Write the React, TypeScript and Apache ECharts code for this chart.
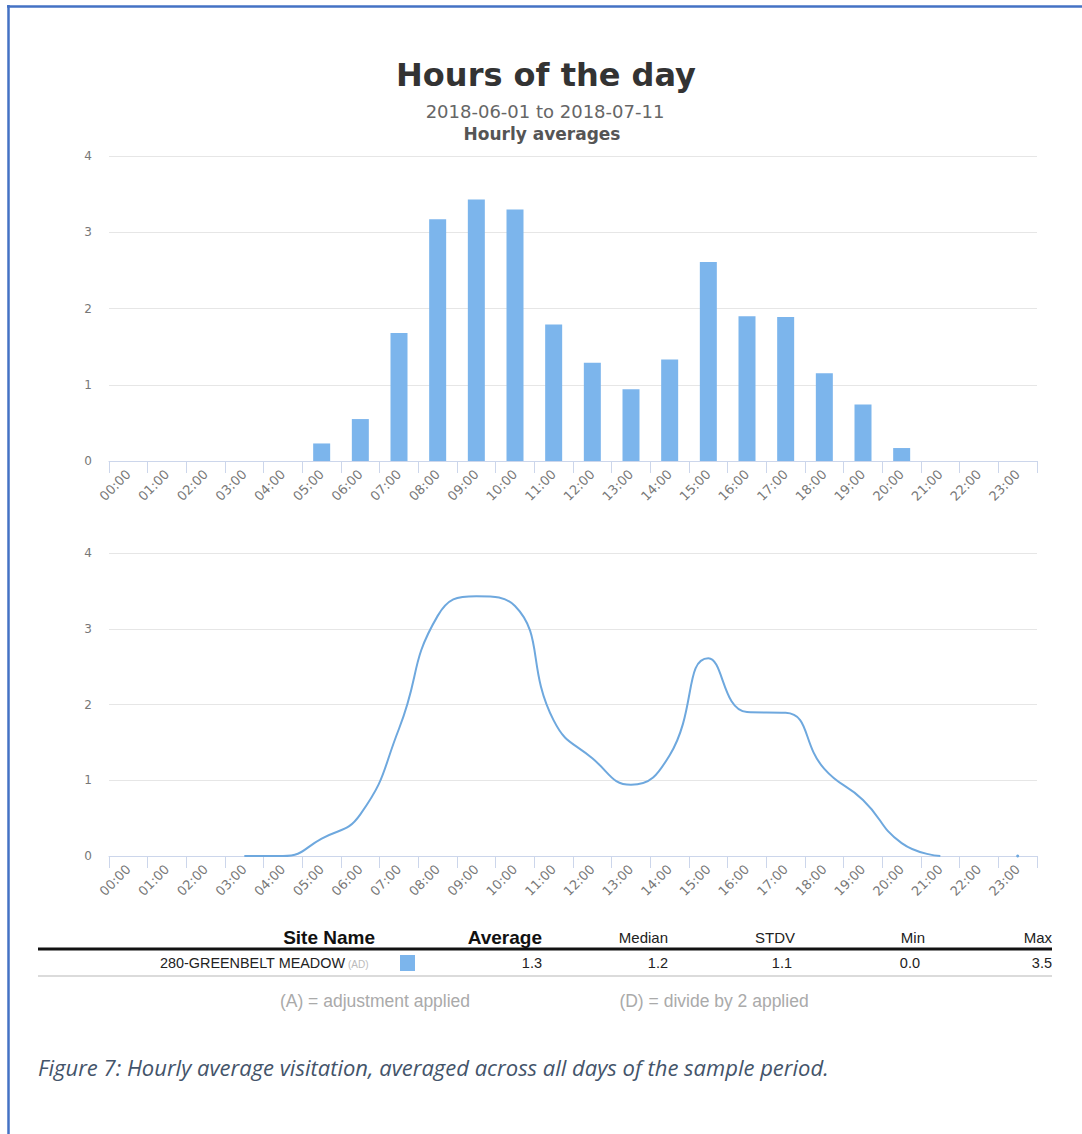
import React, { useEffect, useRef } from "react";
import * as echarts from "echarts";

const hours = [
  "00:00", "01:00", "02:00", "03:00", "04:00", "05:00", "06:00", "07:00",
  "08:00", "09:00", "10:00", "11:00", "12:00", "13:00", "14:00", "15:00",
  "16:00", "17:00", "18:00", "19:00", "20:00", "21:00", "22:00", "23:00",
];

const barValues = [
  0, 0, 0, 0, 0, 0.23, 0.55, 1.68, 3.17, 3.43, 3.3, 1.79,
  1.29, 0.94, 1.33, 2.61, 1.9, 1.89, 1.15, 0.74, 0.17, 0, 0, 0,
];

const lineValues: (number | null)[] = [
  null, null, null, 0, 0, 0.23, 0.55, 1.68, 3.17, 3.43, 3.3, 1.79,
  1.29, 0.94, 1.33, 2.61, 1.9, 1.89, 1.15, 0.74, 0.17, 0, null, 0,
];

const yTicks = [0, 1, 2, 3, 4];

const titleText = "Hours of the day";
const subtitleText = "2018-06-01 to 2018-07-11";
const subtitle2Text = "Hourly averages";

const tableHeaders = ["Site Name", "Average", "Median", "STDV", "Min", "Max"];
const siteName = "280-GREENBELT MEADOW";
const siteFlag = "(AD)";
const statValues = ["1.3", "1.2", "1.1", "0.0", "3.5"];
const footnotes = ["(A) = adjustment applied", "(D) = divide by 2 applied"];
const captionText =
  "Figure 7: Hourly average visitation, averaged across all days of the sample period.";

const BAR_COLOR = "#7cb5ec";
const LINE_COLOR = "#6ea8de";
const AXIS_COLOR = "#ccd6eb";
const GRID_COLOR = "#e6e6e6";
const LABEL_COLOR = "#777";
const FONT = "'DejaVu Sans', sans-serif";
const TFONT = "'Liberation Sans', Arial, sans-serif";

export default function App() {
  const ref = useRef<HTMLDivElement>(null);

  useEffect(() => {
    if (!ref.current) return;
    const chart = echarts.init(ref.current, undefined, { renderer: "svg" });

    const xAxisBase = (gridIndex: number) => ({
      type: "category",
      gridIndex,
      data: hours,
      boundaryGap: true,
      axisLine: { show: true, lineStyle: { color: AXIS_COLOR, width: 1 } },
      axisTick: {
        show: true,
        interval: 0,
        length: 12,
        lineStyle: { color: AXIS_COLOR, width: 1 },
      },
      axisLabel: {
        interval: 0,
        rotate: 45,
        margin: 11,
        color: LABEL_COLOR,
        fontSize: 13,
        fontFamily: FONT,
      },
      splitLine: { show: false },
    });

    const yAxisBase = (gridIndex: number) => ({
      type: "value",
      gridIndex,
      min: yTicks[0],
      max: yTicks[yTicks.length - 1],
      interval: 1,
      axisLine: { show: false },
      axisTick: { show: false },
      axisLabel: {
        color: LABEL_COLOR,
        fontSize: 12,
        fontFamily: FONT,
        margin: 17,
      },
      splitLine: { show: true, lineStyle: { color: GRID_COLOR, width: 1 } },
    });

    // table layout
    const headerRight = [375, 542, 668, 795, 925, 1052];
    const valueRight = [542, 668, 792, 920, 1052];
    const headerY = 937;
    const rowY = 963;

    const graphics: any[] = [
      // page border (left & top)
      {
        type: "line",
        shape: { x1: 8.5, y1: 5, x2: 8.5, y2: 1134 },
        style: { stroke: "#4472c4", lineWidth: 2.5 },
      },
      {
        type: "line",
        shape: { x1: 7, y1: 6.5, x2: 1082, y2: 6.5 },
        style: { stroke: "#4472c4", lineWidth: 2.5 },
      },
      // titles
      {
        type: "text",
        x: 546,
        y: 75,
        style: {
          text: titleText,
          align: "center",
          verticalAlign: "middle",
          fontSize: 32,
          fontWeight: "bold",
          fontFamily: FONT,
          fill: "#333",
        },
      },
      {
        type: "text",
        x: 545,
        y: 111,
        style: {
          text: subtitleText,
          align: "center",
          verticalAlign: "middle",
          fontSize: 18,
          fontFamily: FONT,
          fill: "#666",
        },
      },
      {
        type: "text",
        x: 542,
        y: 134,
        style: {
          text: subtitle2Text,
          align: "center",
          verticalAlign: "middle",
          fontSize: 17,
          fontWeight: "bold",
          fontFamily: FONT,
          fill: "#555",
        },
      },
      // table lines
      {
        type: "line",
        shape: { x1: 38, y1: 949, x2: 1052, y2: 949 },
        style: { stroke: "#111", lineWidth: 3 },
      },
      {
        type: "line",
        shape: { x1: 38, y1: 976, x2: 1052, y2: 976 },
        style: { stroke: "#cfcfcf", lineWidth: 1.5 },
      },
      // colour swatch
      {
        type: "rect",
        shape: { x: 400, y: 955, width: 15, height: 16 },
        style: { fill: BAR_COLOR },
      },
      // site name
      {
        type: "text",
        x: 345,
        y: rowY,
        style: {
          text: siteName,
          align: "right",
          verticalAlign: "middle",
          fontSize: 14.4,
          fontFamily: TFONT,
          fill: "#222",
        },
      },
      {
        type: "text",
        x: 348,
        y: rowY + 1,
        style: {
          text: siteFlag,
          align: "left",
          verticalAlign: "middle",
          fontSize: 10,
          fontFamily: TFONT,
          fill: "#bbb",
        },
      },
      // caption
      {
        type: "text",
        x: 38,
        y: 1067,
        style: {
          text: captionText,
          align: "left",
          verticalAlign: "middle",
          fontSize: 22,
          fontStyle: "italic",
          fontFamily: "'Open Sans', Lato, sans-serif",
          fill: "#44546a",
        },
      },
    ];

    tableHeaders.forEach((h, i) => {
      const bold = i < 2;
      graphics.push({
        type: "text",
        x: headerRight[i],
        y: headerY,
        style: {
          text: h,
          align: "right",
          verticalAlign: "middle",
          fontSize: bold ? 19 : 15,
          fontWeight: bold ? "bold" : "normal",
          fontFamily: TFONT,
          fill: bold ? "#111" : "#222",
        },
      });
    });

    statValues.forEach((v, i) => {
      graphics.push({
        type: "text",
        x: valueRight[i],
        y: rowY,
        style: {
          text: v,
          align: "right",
          verticalAlign: "middle",
          fontSize: 14.5,
          fontFamily: TFONT,
          fill: "#222",
        },
      });
    });

    const footX = [375, 714];
    footnotes.forEach((f, i) => {
      graphics.push({
        type: "text",
        x: footX[i],
        y: 1001,
        style: {
          text: f,
          align: "center",
          verticalAlign: "middle",
          fontSize: 17.5,
          fontFamily: TFONT,
          fill: "#aaa",
        },
      });
    });

    const lineData = lineValues.map((v, i) =>
      i === lineValues.length - 1 && v !== null
        ? { value: v, symbolSize: 3 }
        : v
    );

    chart.setOption({
      animation: false,
      backgroundColor: "#ffffff",
      grid: [
        { left: 109, width: 928, top: 156, height: 305 },
        { left: 109, width: 928, top: 553, height: 303 },
      ],
      xAxis: [xAxisBase(0), xAxisBase(1)],
      yAxis: [yAxisBase(0), yAxisBase(1)],
      series: [
        {
          type: "bar",
          name: siteName,
          xAxisIndex: 0,
          yAxisIndex: 0,
          data: barValues,
          barWidth: 17,
          itemStyle: { color: BAR_COLOR },
        },
        {
          type: "line",
          name: siteName,
          xAxisIndex: 1,
          yAxisIndex: 1,
          data: lineData,
          smooth: 0.5,
          connectNulls: false,
          showSymbol: true,
          symbol: "circle",
          symbolSize: 0,
          itemStyle: { color: LINE_COLOR },
          lineStyle: { color: LINE_COLOR, width: 2 },
        },
      ],
      graphic: graphics,
    });

    return () => chart.dispose();
  }, []);

  return (
    <div
      ref={ref}
      style={{
        position: "absolute",
        left: 0,
        top: 0,
        width: 1082,
        height: 1134,
        background: "#fff",
      }}
    />
  );
}
